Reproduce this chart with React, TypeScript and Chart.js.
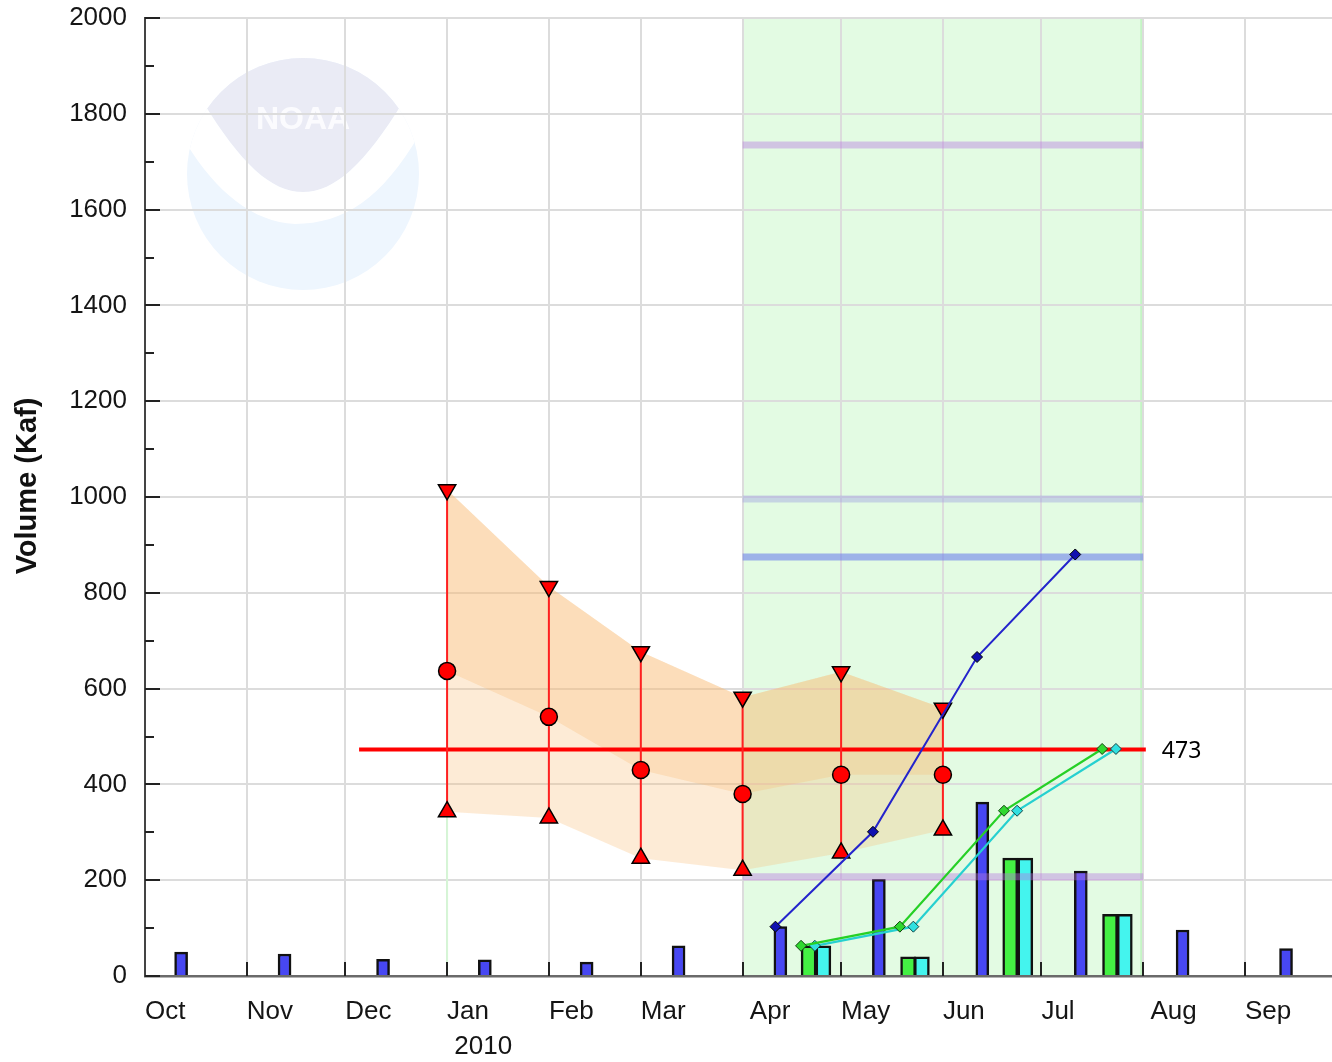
import React, { useEffect, useRef } from "react";
import { Chart, registerables } from "chart.js";

Chart.register(...registerables);

// ---- data (x values are days since 1 Oct 2009, water year 2010) ----
const monthLabels = ["Oct", "Nov", "Dec", "Jan", "Feb", "Mar", "Apr", "May", "Jun", "Jul", "Aug", "Sep"];
const monthStartDays = [0, 31, 61, 92, 123, 151, 182, 212, 243, 273, 304, 335];
const yearLabel = "2010";
const yearLabelMonth = "Jan";

const observedBarDays = [11, 42.5, 72.5, 103.5, 134.5, 162.5, 193.5, 223.5, 255, 285, 316, 347.5];
const observedMonthly = [50, 46, 35, 34, 29, 63, 103, 202, 363, 219, 96, 57];

const observedCumDays = [192, 221.7, 253.4, 283.3];
const observedCum = [103, 301, 666, 880];

const greenCumDays = [199.8, 229.9, 261.6, 291.5];
const greenCum = [63, 103, 345, 474];
const cyanCumDays = [204, 234, 265.6, 295.7];
const cyanCum = [63, 103, 345, 474];

const greenBarDays = [202.1, 232.4, 263.5, 293.9];
const greenMonthly = [63, 40, 246, 129];
const cyanBarDays = [206.6, 236.6, 268.1, 298.4];
const cyanMonthly = [63, 40, 246, 129];

const forecastDays = [92, 123, 151, 182, 212, 243];
const forecastHigh = [1015, 813, 677, 582, 635, 559];
const forecastMid = [637, 541, 430, 380, 420, 420];
const forecastLow = [343, 330, 246, 221, 257, 305];

const seasonStartDay = 182;
const seasonEndDay = 304;
const referenceLevels = [1735, 996, 875, 207];

const averageValue = 473;
const averageStartDay = 65.2;
const averageEndDay = 304.8;

const yMin = 0;
const yMax = 2000;
const xMin = 0;
const xMax = 361.5;

// ---- styles ----
const W = 1332;
const H = 1062;
const referenceColors = [
  "rgba(180,120,225,0.42)",
  "rgba(160,165,225,0.45)",
  "rgba(110,130,235,0.6)",
  "rgba(180,120,225,0.42)",
];
const FONT = "'Liberation Sans', Arial, Helvetica, sans-serif";

const pts = (xs: number[], ys: number[]) => xs.map((x, i) => ({ x, y: ys[i] }));

export default function App() {
  const ref = useRef<HTMLCanvasElement | null>(null);

  useEffect(() => {
    const canvas = ref.current;
    if (!canvas) return;
    Chart.defaults.font.family = FONT;

    const datasets: any[] = [];
    const add = (d: any) => {
      datasets.push(d);
      return datasets.length - 1;
    };

    // cumulative lines
    add({
      type: "line",
      data: pts(observedCumDays, observedCum),
      borderColor: "#2424cc",
      borderWidth: 2,
      pointStyle: "rectRot",
      pointRadius: 5.5,
      pointBackgroundColor: "#1010b0",
      pointBorderColor: "#000",
      pointBorderWidth: 1,
      order: 0,
    });
    add({
      type: "line",
      data: pts(greenCumDays, greenCum),
      borderColor: "#26d026",
      borderWidth: 2.2,
      pointStyle: "rectRot",
      pointRadius: 5.5,
      pointBackgroundColor: "#30d830",
      pointBorderColor: "#114411",
      pointBorderWidth: 1,
      order: 0,
    });
    add({
      type: "line",
      data: pts(cyanCumDays, cyanCum),
      borderColor: "#26d0d0",
      borderWidth: 2.2,
      pointStyle: "rectRot",
      pointRadius: 5.5,
      pointBackgroundColor: "#30e0e0",
      pointBorderColor: "#114444",
      pointBorderWidth: 1,
      order: 0,
    });

    // forecast markers
    add({
      type: "line",
      showLine: false,
      data: pts(forecastDays, forecastHigh),
      pointStyle: "triangle",
      rotation: 180,
      pointRadius: 10,
      pointBackgroundColor: "#ff0000",
      pointBorderColor: "#000",
      pointBorderWidth: 1.5,
      order: 1,
    });
    add({
      type: "line",
      showLine: false,
      data: pts(forecastDays, forecastMid),
      pointStyle: "circle",
      pointRadius: 8.5,
      pointBackgroundColor: "#ff0000",
      pointBorderColor: "#000",
      pointBorderWidth: 1.5,
      order: 1,
    });
    add({
      type: "line",
      showLine: false,
      data: pts(forecastDays, forecastLow),
      pointStyle: "triangle",
      pointRadius: 10,
      pointBackgroundColor: "#ff0000",
      pointBorderColor: "#000",
      pointBorderWidth: 1.5,
      order: 1,
    });

    // forecast range bars (vertical)
    const rangePts: any[] = [];
    forecastDays.forEach((d, i) => {
      rangePts.push({ x: d, y: forecastHigh[i] });
      rangePts.push({ x: d, y: forecastLow[i] });
      rangePts.push({ x: d, y: null });
    });
    add({
      type: "line",
      data: rangePts,
      borderColor: "#ff2020",
      borderWidth: 2,
      pointRadius: 0,
      spanGaps: false,
      order: 2,
    });

    // average line
    add({
      type: "line",
      data: [
        { x: averageStartDay, y: averageValue },
        { x: averageEndDay, y: averageValue },
      ],
      borderColor: "#ff0000",
      borderWidth: 4,
      pointRadius: 0,
      order: 3,
    });

    // reference levels over the season
    referenceLevels.forEach((v, i) => {
      add({
        type: "line",
        data: [
          { x: seasonStartDay, y: v },
          { x: seasonEndDay, y: v },
        ],
        borderColor: referenceColors[i],
        borderWidth: 7,
        borderCapStyle: "butt",
        pointRadius: 0,
        order: 4,
      });
    });

    // monthly bars
    add({
      type: "bar",
      data: pts(observedBarDays, observedMonthly),
      backgroundColor: "#4747f2",
      borderColor: "#111",
      borderWidth: 2.5,
      barThickness: 13,
      grouped: false,
      order: 5,
    });
    add({
      type: "bar",
      data: pts(greenBarDays, greenMonthly),
      backgroundColor: "#44f044",
      borderColor: "#111",
      borderWidth: 2.5,
      barThickness: 15,
      grouped: false,
      order: 5,
    });
    add({
      type: "bar",
      data: pts(cyanBarDays, cyanMonthly),
      backgroundColor: "#44f4ee",
      borderColor: "#111",
      borderWidth: 2.5,
      barThickness: 15,
      grouped: false,
      order: 5,
    });

    // forecast band boundaries (invisible) + fills
    const invisible = {
      type: "line",
      borderColor: "transparent",
      borderWidth: 0,
      pointRadius: 0,
      fill: false,
      order: 7,
    };
    const lowIdx = add({ ...invisible, data: pts(forecastDays, forecastLow) });
    const midIdx = add({ ...invisible, data: pts(forecastDays, forecastMid) });
    add({
      ...invisible,
      data: pts(forecastDays, forecastHigh),
      fill: { target: lowIdx },
      backgroundColor: "rgba(250,190,120,0.3)",
      order: 6,
    });
    add({
      ...invisible,
      data: pts(forecastDays, forecastHigh),
      fill: { target: midIdx },
      backgroundColor: "rgba(250,190,120,0.3)",
      order: 6,
    });

    // faint green line under the first forecast
    add({
      type: "line",
      data: [
        { x: forecastDays[0], y: 0 },
        { x: forecastDays[0], y: forecastLow[0] },
      ],
      borderColor: "#d6f6d6",
      borderWidth: 2,
      pointRadius: 0,
      order: 8,
    });

    const decor = {
      id: "decor",
      beforeDraw(chart: any) {
        const { ctx, chartArea: a, scales } = chart;
        const x = scales.x;
        ctx.save();
        // season shading
        const x0 = x.getPixelForValue(seasonStartDay);
        const x1 = x.getPixelForValue(seasonEndDay);
        ctx.fillStyle = "#e3fbe3";
        ctx.fillRect(x0, a.top, x1 - x0, a.bottom - a.top);
        ctx.fillStyle = "#c4f4c4";
        ctx.fillRect(x1 - 3, a.top, 2, a.bottom - a.top);

        // watermark
        const cx = a.left + 158;
        const cy = a.top + 156;
        const r = 116;
        ctx.beginPath();
        ctx.arc(cx, cy, r, 0, Math.PI * 2);
        ctx.fillStyle = "#eef6fe";
        ctx.fill();
        ctx.save();
        ctx.beginPath();
        ctx.arc(cx, cy, r, 0, Math.PI * 2);
        ctx.clip();
        // cap
        ctx.beginPath();
        ctx.moveTo(cx - 125, cy - 130);
        ctx.lineTo(cx - 100, cy - 72);
        ctx.bezierCurveTo(cx - 62, cy - 10, cx - 32, cy + 18, cx, cy + 18);
        ctx.bezierCurveTo(cx + 32, cy + 18, cx + 62, cy - 10, cx + 100, cy - 72);
        ctx.lineTo(cx + 125, cy - 130);
        ctx.closePath();
        ctx.fillStyle = "#eaebf5";
        ctx.fill();
        // white swoosh
        ctx.beginPath();
        ctx.moveTo(cx - 100, cy - 72);
        ctx.bezierCurveTo(cx - 62, cy - 10, cx - 32, cy + 18, cx, cy + 18);
        ctx.bezierCurveTo(cx + 32, cy + 18, cx + 62, cy - 10, cx + 100, cy - 72);
        ctx.lineTo(cx + 125, cy - 55);
        ctx.bezierCurveTo(cx + 85, cy + 20, cx + 45, cy + 50, cx - 8, cy + 50);
        ctx.bezierCurveTo(cx - 55, cy + 48, cx - 95, cy + 10, cx - 125, cy - 45);
        ctx.closePath();
        ctx.fillStyle = "#ffffff";
        ctx.fill();
        ctx.restore();
        ctx.font = `bold 32px ${FONT}`;
        ctx.fillStyle = "#fbfbfe";
        ctx.textAlign = "center";
        ctx.textBaseline = "middle";
        ctx.fillText("NOAA", cx, cy - 54);
        ctx.restore();
      },
      afterDraw(chart: any) {
        const { ctx, chartArea: a, scales } = chart;
        const x = scales.x;
        const y = scales.y;
        ctx.save();
        ctx.strokeStyle = "#222";
        ctx.lineWidth = 2;
        ctx.beginPath();
        for (let v = yMin; v <= yMax; v += 100) {
          const py = Math.round(y.getPixelForValue(v));
          const len = v % 200 === 0 ? 15 : 9;
          ctx.moveTo(a.left, py);
          ctx.lineTo(a.left + len, py);
        }
        monthStartDays.slice(1).forEach((d) => {
          const px = Math.round(x.getPixelForValue(d));
          ctx.moveTo(px, a.bottom);
          ctx.lineTo(px, a.bottom - 14);
        });
        ctx.stroke();

        // axis title
        ctx.save();
        ctx.translate(28, (a.top + a.bottom) / 2 - 11);
        ctx.rotate(-Math.PI / 2);
        ctx.font = `bold 29px ${FONT}`;
        ctx.fillStyle = "#111";
        ctx.textAlign = "center";
        ctx.textBaseline = "middle";
        ctx.fillText("Volume (Kaf)", 0, 0);
        ctx.restore();

        // average label
        ctx.font = `23px 'Noto Sans', sans-serif`;
        ctx.fillStyle = "#000";
        ctx.textAlign = "left";
        ctx.textBaseline = "middle";
        ctx.fillText(
          String(averageValue),
          x.getPixelForValue(averageEndDay) + 16,
          y.getPixelForValue(averageValue) + 2
        );
        ctx.restore();
      },
    };

    const chart = new Chart(canvas, {
      type: "line",
      data: { datasets },
      options: {
        responsive: false,
        animation: false,
        devicePixelRatio: 1,
        layout: { autoPadding: false, padding: { left: 0, right: 0, top: 18, bottom: 0 } },
        plugins: {
          legend: { display: false },
          tooltip: { enabled: false },
          title: { display: false },
        },
        elements: { line: { tension: 0 } },
        scales: {
          x: {
            type: "linear",
            min: xMin,
            max: xMax,
            offset: false,
            afterBuildTicks: (s: any) => {
              s.ticks = monthStartDays.map((v) => ({ value: v }));
            },
            afterFit: (s: any) => {
              s.height = H - 976;
              s.paddingLeft = 0;
              s.paddingRight = 0;
              s.paddingTop = 0;
              s.paddingBottom = 0;
            },
            grid: { color: "#dcdcdc", lineWidth: 2, drawTicks: false, offset: false },
            border: { display: true, color: "#6a6a6a", width: 2.5 },
            ticks: {
              autoSkip: false,
              maxRotation: 0,
              minRotation: 0,
              align: "start",
              padding: 18,
              labelOffset: 0,
              color: "#151515",
              font: { size: 26, lineHeight: 1.35 },
              callback: (_v: any, i: number) => {
                const m = monthLabels[i];
                if (m === yearLabelMonth) return [m, " " + yearLabel];
                if (m === "Apr" || m === "Aug") return " " + m;
                return m;
              },
            },
          },
          y: {
            type: "linear",
            min: yMin,
            max: yMax,
            afterFit: (s: any) => {
              s.width = 145;
              s.paddingTop = 0;
              s.paddingBottom = 0;
              s.paddingLeft = 0;
              s.paddingRight = 0;
            },
            grid: {
              color: (c: any) => (c.tick && c.tick.value % 200 === 0 ? "#dcdcdc" : "rgba(0,0,0,0)"),
              lineWidth: 2,
              drawTicks: false,
            },
            border: { display: true, color: "#444", width: 2 },
            ticks: {
              stepSize: 100,
              autoSkip: false,
              padding: 18,
              color: "#151515",
              font: { size: 26 },
              callback: (v: any) => (Number(v) % 200 === 0 ? String(v) : ""),
            },
          },
        },
      },
      plugins: [decor],
    } as any);

    return () => chart.destroy();
  }, []);

  return (
    <div style={{ position: "absolute", left: 0, top: 0, width: W, height: H, background: "#fff" }}>
      <canvas ref={ref} width={W} height={H} style={{ display: "block", width: W, height: H }} />
    </div>
  );
}
